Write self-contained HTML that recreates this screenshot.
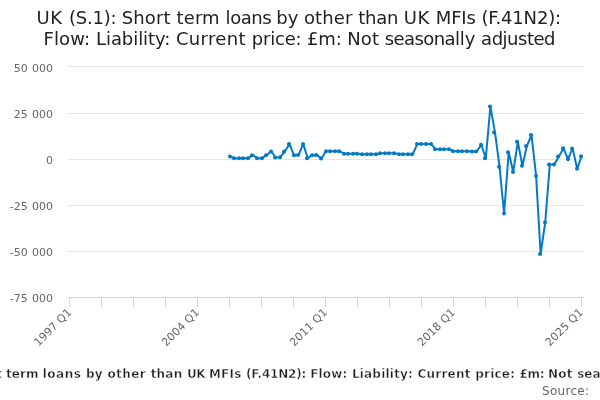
<!DOCTYPE html>
<html><head><meta charset="utf-8"><title>chart</title>
<style>
html,body{margin:0;padding:0;background:#fff;}
body{width:600px;height:400px;overflow:hidden;}
svg{display:block;font-family:"DejaVu Sans","Liberation Sans",Verdana,sans-serif;}
text{white-space:pre;}
</style></head><body>
<svg width="600" height="400" viewBox="0 0 600 400">
<rect x="0" y="0" width="600" height="400" fill="#ffffff"/>
<g fill="none" stroke="#e6e6e6" stroke-width="1"><path d="M 68 66.5 L 584 66.5"/><path d="M 68 113.5 L 584 113.5"/><path d="M 68 159.5 L 584 159.5"/><path d="M 68 205.5 L 584 205.5"/><path d="M 68 251.5 L 584 251.5"/></g>
<g fill="none" stroke="#ccd6eb" stroke-width="1"><path d="M 69.5 297 L 69.5 307"/><path d="M 101.5 297 L 101.5 307"/><path d="M 133.5 297 L 133.5 307"/><path d="M 165.5 297 L 165.5 307"/><path d="M 197.5 297 L 197.5 307"/><path d="M 229.5 297 L 229.5 307"/><path d="M 261.5 297 L 261.5 307"/><path d="M 293.5 297 L 293.5 307"/><path d="M 325.5 297 L 325.5 307"/><path d="M 357.5 297 L 357.5 307"/><path d="M 389.5 297 L 389.5 307"/><path d="M 421.5 297 L 421.5 307"/><path d="M 453.5 297 L 453.5 307"/><path d="M 485.5 297 L 485.5 307"/><path d="M 517.5 297 L 517.5 307"/><path d="M 549.5 297 L 549.5 307"/><path d="M 581.5 297 L 581.5 307"/><path d="M 68 297.5 L 584 297.5"/></g>
<g fill="none" stroke="#0579c3" stroke-width="2" stroke-linejoin="round" stroke-linecap="round"><path d="M 230.1 156.5 L 234.7 158.2 L 239.2 158.2 L 243.8 158.2 L 248.4 158.2 L 252.9 155.2 L 257.5 158.2 L 262.1 158.2 L 266.6 155.2 L 271.2 151.5 L 275.8 157.5 L 280.3 157.2 L 284.9 151.5 L 289.5 143.9 L 294.0 155.2 L 298.6 155.0 L 303.2 143.9 L 307.7 158.2 L 312.3 155.2 L 316.9 154.9 L 321.4 158.5 L 326.0 151.2 L 330.6 151.2 L 335.1 151.2 L 339.7 151.2 L 344.3 153.8 L 348.8 153.8 L 353.4 153.8 L 358.0 153.8 L 362.5 154.3 L 367.1 154.3 L 371.7 154.3 L 376.2 154.3 L 380.8 153.3 L 385.4 153.3 L 389.9 153.3 L 394.5 153.3 L 399.1 154.3 L 403.6 154.3 L 408.2 154.3 L 412.8 154.3 L 417.3 143.9 L 421.9 143.9 L 426.5 143.9 L 431.0 143.9 L 435.6 149.2 L 440.2 149.2 L 444.7 149.2 L 449.3 149.2 L 453.9 151.2 L 458.4 151.2 L 463.0 151.2 L 467.6 151.2 L 472.1 151.5 L 476.7 151.5 L 481.3 144.7 L 485.8 158.2 L 490.4 106.4 L 495.0 132.4 L 499.5 166.7 L 504.1 213.5 L 508.7 152.2 L 513.2 172.0 L 517.8 141.8 L 522.4 165.7 L 526.9 146.0 L 531.5 135.0 L 536.1 175.9 L 540.6 254.0 L 545.2 222.5 L 549.8 164.5 L 554.3 164.4 L 558.9 156.6 L 563.5 148.3 L 568.0 159.2 L 572.6 148.4 L 577.2 168.7 L 581.7 156.2"/></g>
<g fill="#0579c3" stroke="none"><circle cx="230" cy="156.5" r="2"/><circle cx="234" cy="158.2" r="2"/><circle cx="239" cy="158.2" r="2"/><circle cx="243" cy="158.2" r="2"/><circle cx="248" cy="158.2" r="2"/><circle cx="252" cy="155.2" r="2"/><circle cx="257" cy="158.2" r="2"/><circle cx="262" cy="158.2" r="2"/><circle cx="266" cy="155.2" r="2"/><circle cx="271" cy="151.5" r="2"/><circle cx="275" cy="157.5" r="2"/><circle cx="280" cy="157.2" r="2"/><circle cx="284" cy="151.5" r="2"/><circle cx="289" cy="143.9" r="2"/><circle cx="294" cy="155.2" r="2"/><circle cx="298" cy="155.0" r="2"/><circle cx="303" cy="143.9" r="2"/><circle cx="307" cy="158.2" r="2"/><circle cx="312" cy="155.2" r="2"/><circle cx="316" cy="154.9" r="2"/><circle cx="321" cy="158.5" r="2"/><circle cx="326" cy="151.2" r="2"/><circle cx="330" cy="151.2" r="2"/><circle cx="335" cy="151.2" r="2"/><circle cx="339" cy="151.2" r="2"/><circle cx="344" cy="153.8" r="2"/><circle cx="348" cy="153.8" r="2"/><circle cx="353" cy="153.8" r="2"/><circle cx="357" cy="153.8" r="2"/><circle cx="362" cy="154.3" r="2"/><circle cx="367" cy="154.3" r="2"/><circle cx="371" cy="154.3" r="2"/><circle cx="376" cy="154.3" r="2"/><circle cx="380" cy="153.3" r="2"/><circle cx="385" cy="153.3" r="2"/><circle cx="389" cy="153.3" r="2"/><circle cx="394" cy="153.3" r="2"/><circle cx="399" cy="154.3" r="2"/><circle cx="403" cy="154.3" r="2"/><circle cx="408" cy="154.3" r="2"/><circle cx="412" cy="154.3" r="2"/><circle cx="417" cy="143.9" r="2"/><circle cx="421" cy="143.9" r="2"/><circle cx="426" cy="143.9" r="2"/><circle cx="431" cy="143.9" r="2"/><circle cx="435" cy="149.2" r="2"/><circle cx="440" cy="149.2" r="2"/><circle cx="444" cy="149.2" r="2"/><circle cx="449" cy="149.2" r="2"/><circle cx="453" cy="151.2" r="2"/><circle cx="458" cy="151.2" r="2"/><circle cx="462" cy="151.2" r="2"/><circle cx="467" cy="151.2" r="2"/><circle cx="472" cy="151.5" r="2"/><circle cx="476" cy="151.5" r="2"/><circle cx="481" cy="144.7" r="2"/><circle cx="485" cy="158.2" r="2"/><circle cx="490" cy="106.4" r="2"/><circle cx="494" cy="132.4" r="2"/><circle cx="499" cy="166.7" r="2"/><circle cx="504" cy="213.5" r="2"/><circle cx="508" cy="152.2" r="2"/><circle cx="513" cy="172.0" r="2"/><circle cx="517" cy="141.8" r="2"/><circle cx="522" cy="165.7" r="2"/><circle cx="526" cy="146.0" r="2"/><circle cx="531" cy="135.0" r="2"/><circle cx="536" cy="175.9" r="2"/><circle cx="540" cy="254.0" r="2"/><circle cx="545" cy="222.5" r="2"/><circle cx="549" cy="164.5" r="2"/><circle cx="554" cy="164.4" r="2"/><circle cx="558" cy="156.6" r="2"/><circle cx="563" cy="148.3" r="2"/><circle cx="568" cy="159.2" r="2"/><circle cx="572" cy="148.4" r="2"/><circle cx="577" cy="168.7" r="2"/><circle cx="581" cy="156.2" r="2"/></g>
<text y="23.6" font-size="18px" fill="#222222" xml:space="preserve"><tspan x="36.54" letter-spacing="0.605">UK </tspan><tspan x="69.05" letter-spacing="-0.240">(S.1): </tspan><tspan x="121.81" letter-spacing="0.112">Short </tspan><tspan x="176.52" letter-spacing="0.121">term </tspan><tspan x="225.60" letter-spacing="-0.467">loans </tspan><tspan x="276.37" letter-spacing="-0.057">by </tspan><tspan x="304.01" letter-spacing="0.095">other </tspan><tspan x="358.27" letter-spacing="-0.214">than </tspan><tspan x="403.84" letter-spacing="0.398">UK </tspan><tspan x="435.73" letter-spacing="-0.115">MFIs </tspan><tspan x="481.45" letter-spacing="-0.185">(F.41N2):</tspan></text>
<text y="44.6" font-size="18px" fill="#222222" xml:space="preserve"><tspan x="43.43" letter-spacing="0.118">Flow: </tspan><tspan x="96.03" letter-spacing="-0.067">Liability: </tspan><tspan x="175.99" letter-spacing="0.318">Current </tspan><tspan x="251.87" letter-spacing="-0.213">price: </tspan><tspan x="306.97" letter-spacing="-0.104">£m: </tspan><tspan x="347.33" letter-spacing="0.056">Not </tspan><tspan x="384.82" letter-spacing="-0.605">seasona</tspan><tspan x="454.90" letter-spacing="-0.044">lly </tspan><tspan x="481.12" letter-spacing="-0.485">adjusted</tspan></text>
<g font-size="11px" fill="#666666" text-anchor="end" word-spacing="0.7"><text x="53.0" y="71.8">50 000</text><text x="53.0" y="117.9">25 000</text><text x="53" y="164">0</text><text x="53.0" y="210.1">-25 000</text><text x="53.0" y="256.2">-50 000</text><text x="53.0" y="302.3">-75 000</text></g>
<g font-size="11px" fill="#666666" text-anchor="end" letter-spacing="0.1"><text x="72.3" y="313" transform="rotate(-45 72.3 313)">1997 Q1</text><text x="200.1" y="313" transform="rotate(-45 200.1 313)">2004 Q1</text><text x="328.0" y="313" transform="rotate(-45 328.0 313)">2011 Q1</text><text x="455.9" y="313" transform="rotate(-45 455.9 313)">2018 Q1</text><text x="583.7" y="313" transform="rotate(-45 583.7 313)">2025 Q1</text></g>
<text y="377.5" font-size="12px" font-weight="bold" fill="#1e1e1e" stroke="#ffffff" stroke-width="0.4" xml:space="preserve"><tspan x="-102.01" letter-spacing="0.132">UK (S.1): Short </tspan><tspan x="6.09" letter-spacing="0.033">term </tspan><tspan x="42.74" letter-spacing="0.487">loans </tspan><tspan x="85.99" letter-spacing="0.299">by </tspan><tspan x="107.48" letter-spacing="0.399">other </tspan><tspan x="150.64" letter-spacing="0.229">than </tspan><tspan x="186.90" letter-spacing="-0.411">UK </tspan><tspan x="208.90" letter-spacing="0.227">MFIs </tspan><tspan x="245.97" letter-spacing="-0.185">(F.41N2): </tspan><tspan x="310.15" letter-spacing="0.188">Flow: </tspan><tspan x="351.90" letter-spacing="0.198">Liability: </tspan><tspan x="417.40" letter-spacing="0.257">Current </tspan><tspan x="475.24" letter-spacing="0.209">price: </tspan><tspan x="519.57" letter-spacing="-0.378">£m: </tspan><tspan x="547.90" letter-spacing="0.269">Not </tspan><tspan x="577.18">seasonally </tspan><tspan x="652.82">adjusted</tspan></text>
<text y="394.8" font-size="12px" fill="#666666"><tspan x="542.01" letter-spacing="0.304">Source:</tspan></text>
</svg>
</body></html>
